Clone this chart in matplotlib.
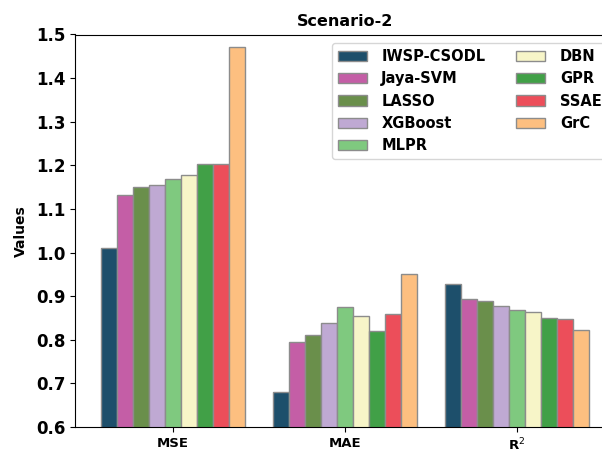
import matplotlib.pyplot as plt
import numpy as np

# метрики и модели
metrics = ["MSE", "MAE", "R$^2$"]
models = ["IWSP-CSODL", "Jaya-SVM", "LASSO", "XGBoost", "MLPR", "DBN", "GPR", "SSAE", "GrC"]

mse = [1.010, 1.131, 1.151, 1.156, 1.169, 1.178, 1.203, 1.203, 1.472]
mae = [0.681, 0.794, 0.812, 0.839, 0.875, 0.854, 0.819, 0.859, 0.951]
r2 = [0.929, 0.893, 0.889, 0.877, 0.868, 0.863, 0.850, 0.848, 0.823]

colors = ["#1d4f6b", "#c45ea6", "#6a8f4b", "#bfa9d3", "#7fc97f",
          "#f7f5c8", "#41a047", "#ec4e5a", "#fdbf80"]

values = np.array([mse, mae, r2])
x = np.arange(len(metrics))
w = 0.093

fig = plt.figure(figsize=(6.02, 4.53), dpi=100)
ax = fig.add_axes([75 / 602, 26 / 453, 3.138 * 172 / 602, 392.5 / 453])

for k, name in enumerate(models):
    ax.bar(x + (k - 4) * w, values[:, k], w, color=colors[k],
           edgecolor="#8c8c8c", linewidth=1, label=name)

ax.set_xlim(-0.568, 2.57)
ax.set_ylim(0.6, 1.5)
ax.set_xticks(x)
ax.set_xticklabels(metrics, fontweight="bold", fontsize=9.5)
ax.tick_params(axis="y", labelsize=12)
for t in ax.get_yticklabels():
    t.set_fontweight("bold")
ax.set_ylabel("Values", fontweight="bold", fontsize=10, labelpad=6)
ax.set_title("Scenario-2", fontweight="bold", fontsize=11.5)

leg = ax.legend(ncol=2, loc="upper left", bbox_to_anchor=(0.4756, 0.978),
                borderaxespad=0, prop={"weight": "bold", "size": 10.5},
                handlelength=2.0, handletextpad=1.0, columnspacing=2.1,
                labelspacing=0.5, borderpad=0.4)

fig.savefig("out.png", dpi=100)
